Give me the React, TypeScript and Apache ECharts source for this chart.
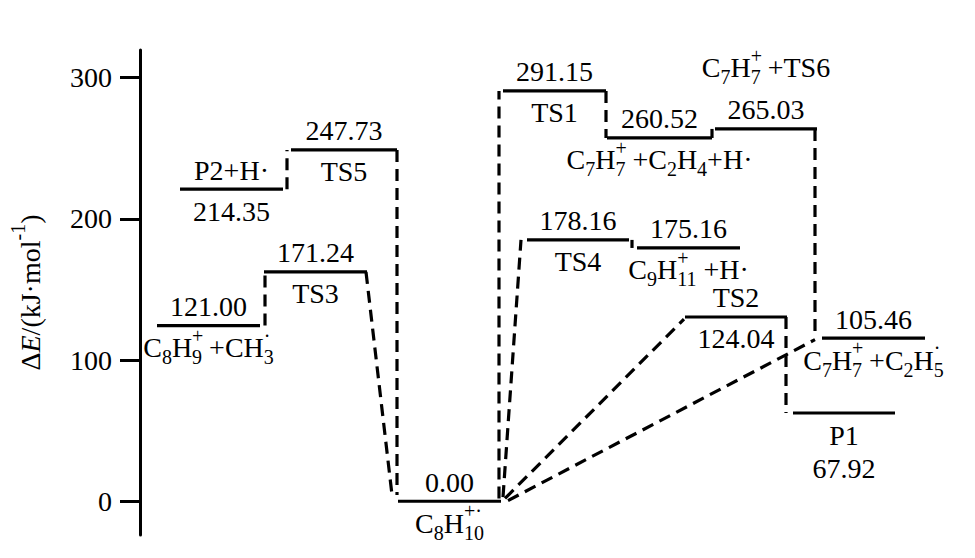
import { useEffect, useRef } from "react";
import * as echarts from "echarts";

const FONT = "Liberation Serif";

// Energy levels: x-span on the reaction coordinate and drawn height (kJ/mol)
const levelStart = [1.7, 12.4, 4.0, 15.1, 25.8, 36.3, 46.7, 57.5, 38.7, 49.7, 54.5, 68.2, 65.3];
const levelEnd = [12.0, 22.7, 14.3, 25.7, 36.1, 46.6, 57.2, 67.7, 48.9, 60.0, 64.7, 78.5, 75.5];
const levelEnergy = [124.4, 162.4, 221.0, 248.8, 0, 290.6, 257.3, 263.7, 185.1, 179.4, 130.5, 115.6, 62.5];

// Printed energies and species names ({s|..} subscript, {p|..} superscript stacked over next subscript)
const energyLabels = [
  "121.00", "171.24", "214.35", "247.73", "0.00", "291.15", "260.52",
  "265.03", "178.16", "175.16", "124.04", "105.46", "67.92",
];
const speciesLabels = [
  "C{s|8}H{p|+}{s|9} +CH{p|·}{s|3}",
  "TS3",
  "P2+H·",
  "TS5",
  "C{s|8}H{p|+·}{s|10}",
  "TS1",
  "C{s|7}H{p|+}{s|7} +C{s|2}H{s|4}+H·",
  "C{s|7}H{p|+}{s|7} +TS6",
  "TS4",
  "C{s|9}H{p|+}{s|11} +H·",
  "TS2",
  "C{s|7}H{p|+}{s|7} +C{s|2}H{p|·}{s|5}",
  "P1",
];
// where the two labels of each level sit
const labelPlacement = [
  "energy-top", "energy-top", "name-top", "energy-top", "energy-top", "energy-top", "energy-top",
  "both-top", "energy-top", "energy-top", "name-top", "energy-top", "both-bottom",
];

// Dashed connectors: [x0, y0, x1, y1]
const connectors = [
  [12.5, 124.4, 12.5, 162.4],
  [14.7, 221.0, 14.7, 248.8],
  [22.6, 162.4, 25.2, 4.5],
  [25.7, 248.8, 25.7, 4.5],
  [35.9, 2, 35.9, 290.6],
  [36.3, 3, 38.1, 185.1],
  [36.5, 2, 54.4, 129],
  [36.8, 0.5, 67.5, 114.5],
  [46.6, 290.6, 46.6, 257.3],
  [57.2, 257.3, 57.2, 263.7],
  [67.5, 263.7, 67.5, 115.6],
  [49.2, 185.1, 49.2, 179.4],
  [64.6, 130.5, 64.6, 62.5],
];

const yTicks = [0, 100, 200, 300];

const MAIN = 28;
const SMALL = 20;

const RICH = {
  s: { fontFamily: FONT, fontSize: SMALL, verticalAlign: "bottom", height: 17, fill: "#000" },
  p: { fontFamily: FONT, fontSize: SMALL, verticalAlign: "top", height: 12, width: 0, fill: "#000" },
};

const measureCtx = document.createElement("canvas").getContext("2d") as CanvasRenderingContext2D;
function measure(text: string, size: number) {
  measureCtx.font = `${size}px "${FONT}"`;
  return measureCtx.measureText(text).width;
}
function markupWidth(m: string) {
  let w = 0;
  const re = /\{(\w)\|([^}]*)\}|([^{]+)/g;
  let mm: RegExpExecArray | null;
  while ((mm = re.exec(m))) {
    if (mm[3]) w += measure(mm[3], MAIN);
    else if (mm[1] === "s") w += measure(mm[2], SMALL);
  }
  return w;
}

function label(m: string, cx: number, y: number) {
  return {
    type: "text",
    x: cx - markupWidth(m) / 2,
    y,
    style: {
      text: m,
      rich: RICH,
      fontFamily: FONT,
      fontSize: MAIN,
      lineHeight: 36,
      fill: "#000",
      align: "left",
      verticalAlign: "middle",
    },
  };
}

function labelsFor(i: number) {
  const e = energyLabels[i];
  const n = speciesLabels[i];
  switch (labelPlacement[i]) {
    case "name-top":
      return { above: [n], below: [e] };
    case "both-top":
      return { above: [e, n], below: [] };
    case "both-bottom":
      return { above: [], below: [n, e] };
    default:
      return { above: [e], below: [n] };
  }
}

export default function App() {
  const ref = useRef<HTMLDivElement>(null);

  useEffect(() => {
    if (!ref.current) return;
    const chart = echarts.init(ref.current, null, { renderer: "svg" });

    chart.setOption({
      animation: false,
      backgroundColor: "#fff",
      textStyle: { fontFamily: FONT },
      grid: { left: 140, right: 35, top: 50, bottom: 23, outerBoundsMode: "none" },
      xAxis: { type: "value", min: 0, max: 80, show: false },
      yAxis: {
        type: "value",
        min: -23.9,
        max: 319.6,
        name: "{d|Δ}{i|E}{d|/(kJ·mol}{p|-1}{d|)}",
        nameLocation: "middle",
        nameGap: 92,
        nameTextStyle: {
          fontFamily: FONT,
          fontSize: MAIN,
          color: "#000",
          lineHeight: 36,
          rich: {
            d: { fontFamily: FONT, fontSize: MAIN, color: "#000" },
            i: { fontFamily: FONT, fontSize: MAIN, fontStyle: "italic", color: "#000" },
            p: { fontFamily: FONT, fontSize: SMALL, color: "#000", verticalAlign: "top", height: 12 },
          },
        },
        axisLine: { show: true, onZero: false, lineStyle: { color: "#000", width: 3 } },
        axisTick: {
          show: true,
          length: 20,
          customValues: yTicks,
          lineStyle: { color: "#000", width: 3 },
        },
        axisLabel: {
          customValues: yTicks,
          margin: 28,
          fontFamily: FONT,
          fontSize: MAIN,
          color: "#000",
        },
        splitLine: { show: false },
      },
      series: [
        {
          type: "custom",
          name: "connectors",
          data: connectors,
          encode: { x: [0, 2], y: [1, 3] },
          silent: true,
          renderItem: (_params: any, api: any) => {
            const p = api.coord([api.value(0), api.value(1)]);
            const q = api.coord([api.value(2), api.value(3)]);
            return {
              type: "line",
              shape: { x1: p[0], y1: p[1], x2: q[0], y2: q[1] },
              style: { stroke: "#000", lineWidth: 3.2, lineDash: [12, 7] },
            };
          },
        },
        {
          type: "custom",
          name: "levels",
          data: levelStart.map((s, i) => [s, levelEnd[i], levelEnergy[i]]),
          encode: { x: [0, 1], y: 2 },
          silent: true,
          renderItem: (params: any, api: any) => {
            const i = params.dataIndex;
            const a = api.coord([api.value(0), api.value(2)]);
            const b = api.coord([api.value(1), api.value(2)]);
            const cx = (a[0] + b[0]) / 2;
            const y = a[1];
            const children: any[] = [
              {
                type: "line",
                shape: { x1: a[0], y1: y, x2: b[0], y2: y },
                style: { stroke: "#000", lineWidth: 3.2 },
              },
            ];
            const { above, below } = labelsFor(i);
            const aboveOff = [19, 61];
            const belowOff = [22, 55];
            above.forEach((t, k) => children.push(label(t, cx, y - aboveOff[k])));
            below.forEach((t, k) => children.push(label(t, cx, y + belowOff[k])));
            return { type: "group", children };
          },
        },
      ],
    });

    return () => chart.dispose();
  }, []);

  return (
    <div
      ref={ref}
      style={{ position: "fixed", left: 0, top: 0, width: 975, height: 558, background: "#fff" }}
    />
  );
}
